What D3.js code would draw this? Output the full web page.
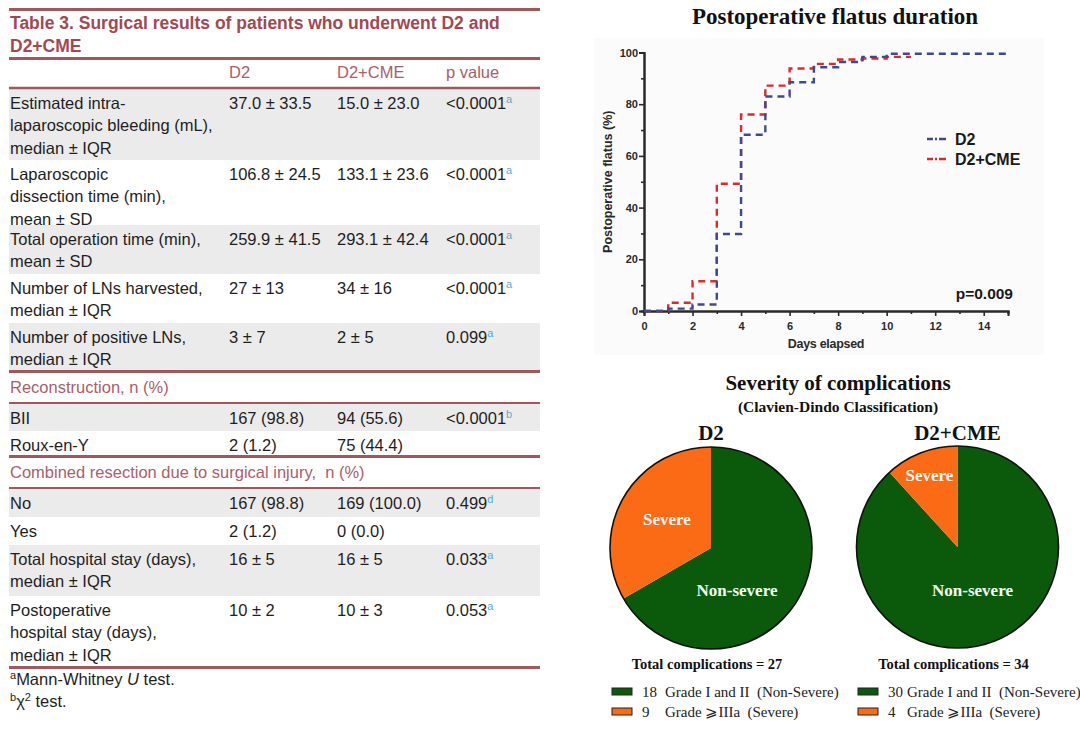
<!DOCTYPE html>
<html><head><meta charset="utf-8">
<script src="https://cdn.jsdelivr.net/npm/d3@7"></script>
<style>body{margin:0;background:#fff}svg{display:block}</style>
</head><body><svg id="c" width="1080" height="731"></svg>
<script>
// ---------------- DATA ----------------
const tableTitle = ["Table 3.  Surgical results of patients who underwent D2 and", "D2+CME"];
const tableColumns = ["D2", "D2+CME", "p value"];
const rowLabels = [
  ["Estimated intra-", "laparoscopic bleeding (mL),", "median \u00b1 IQR"],
  ["Laparoscopic", "dissection time (min),", "mean \u00b1 SD"],
  ["Total operation time (min),", "mean \u00b1 SD"],
  ["Number of LNs harvested,", "median \u00b1 IQR"],
  ["Number of positive LNs,", "median \u00b1 IQR"],
  "Reconstruction, n (%)",
  ["BII"],
  ["Roux-en-Y"],
  "Combined resection due to surgical injury,  n (%)",
  ["No"],
  ["Yes"],
  ["Total hospital stay (days),", "median \u00b1 IQR"],
  ["Postoperative", "hospital stay (days),", "median \u00b1 IQR"]
];
const d2Values = ["37.0 \u00b1 33.5", "106.8 \u00b1 24.5", "259.9 \u00b1 41.5", "27 \u00b1 13", "3 \u00b1 7", null, "167 (98.8)", "2 (1.2)", null, "167 (98.8)", "2 (1.2)", "16 \u00b1 5", "10 \u00b1 2"];
const cmeValues = ["15.0 \u00b1 23.0", "133.1 \u00b1 23.6", "293.1 \u00b1 42.4", "34 \u00b1 16", "2 \u00b1 5", null, "94 (55.6)", "75 (44.4)", null, "169 (100.0)", "0 (0.0)", "16 \u00b1 5", "10 \u00b1 3"];
const pValues = ["<0.0001", "<0.0001", "<0.0001", "<0.0001", "0.099", null, "<0.0001", "", null, "0.499", "", "0.033", "0.053"];
const pNotes = ["a", "a", "a", "a", "a", null, "b", "", null, "d", "", "a", "a"];
const shadedRows = [0, 2, 4, 6, 9, 11];

const kmTitle = "Postoperative flatus duration";
const kmDays = [0, 1, 2, 3, 4, 5, 6, 7, 8, 9, 10, 11, 15];
const kmD2 = [0, 0.9, 2.5, 29.8, 68.2, 83.0, 88.5, 94.3, 96.3, 98.3, 99.5, 99.5, 99.5];
const kmCME = [0, 3.2, 11.5, 49.2, 76.0, 87.2, 93.8, 95.6, 97.3, 97.7, 98.3, 98.3, null];
const kmSeries = ["D2", "D2+CME"];
const kmPValue = "p=0.009";
const kmXTicks = [0, 2, 4, 6, 8, 10, 12, 14];
const kmYTicks = [0, 20, 40, 60, 80, 100];

const pieGroups = ["D2", "D2+CME"];
const nonSevere = [18, 30];
const severe = [9, 4];
const pieClasses = ["Non-severe", "Severe"];
const pieLegendLabels = ["Grade I and II  (Non-Severe)", "Grade \u2A7EIIIa  (Severe)"];

// ---------------- STYLES / LAYOUT ----------------
const svg = d3.select("#c");
const SANS = "'Liberation Sans', Arial, Helvetica, sans-serif";
const SERIF = "'Liberation Serif', 'Times New Roman', serif";
const ROSE = "#a0585d";
const TITLE_ROSE = "#a24852";
const HEAD_ROSE = "#a9606a";
const SHADE = "#ebebeb";
const TXT = "#1e1e1e";
const SUP = "#5aa9d6";
const FS = 16.5;

// ---------------- TABLE ----------------
const T = svg.append("g");
const tx0 = 9, tx1 = 540;
const colX = [10, 229, 337, 446];
const rowHeights = [71, 65, 49, 49, 50, 31, 27, 27, 31, 28, 28, 51, 71];
const rules = [];
rules.push({y: 9.5, w: 3}, {y: 58.5, w: 3}, {y: 88, w: 2.5});

T.selectAll("text.title").data(tableTitle).join("text")
  .attr("x", 10).attr("y", (d, i) => 28.5 + i * 23)
  .attr("font-family", SANS).attr("font-weight", "bold").attr("font-size", 17.5)
  .attr("fill", TITLE_ROSE).text(d => d);

T.selectAll("text.head").data(tableColumns).join("text")
  .attr("x", (d, i) => colX[i + 1]).attr("y", 78)
  .attr("font-family", SANS).attr("font-size", FS).attr("fill", HEAD_ROSE).text(d => d);

let y = 89;
const rowTops = [];
rowLabels.forEach((lab, i) => {
  rowTops.push(y);
  const h = rowHeights[i];
  if (typeof lab === "string") {
    rules.push({y: y - 1.5, w: 3});
    rules.push({y: y + h - 1, w: 2});
  }
  y += h;
});
rules.push({y: y + 0.5, w: 3});
const tableBottom = y;

T.selectAll("rect.shade").data(shadedRows).join("rect")
  .attr("x", tx0).attr("width", tx1 - tx0)
  .attr("y", i => rowTops[i]).attr("height", i => rowHeights[i])
  .attr("fill", SHADE);

rowLabels.forEach((lab, i) => {
  const top = rowTops[i];
  if (typeof lab === "string") {
    T.append("text").attr("x", 10).attr("y", top + 20)
      .attr("font-family", SANS).attr("font-size", FS).attr("fill", HEAD_ROSE)
      .style("white-space", "pre").text(lab);
    return;
  }
  lab.forEach((ln, j) => {
    T.append("text").attr("x", 10).attr("y", top + 19.5 + j * 22.5)
      .attr("font-family", SANS).attr("font-size", FS).attr("fill", TXT).text(ln);
  });
  [d2Values[i], cmeValues[i]].forEach((v, k) => {
    if (v) T.append("text").attr("x", colX[k + 1]).attr("y", top + 19.5)
      .attr("font-family", SANS).attr("font-size", FS).attr("fill", TXT).text(v);
  });
  if (pValues[i]) {
    const t = T.append("text").attr("x", colX[3]).attr("y", top + 19.5)
      .attr("font-family", SANS).attr("font-size", FS).attr("fill", TXT);
    t.append("tspan").text(pValues[i]);
    t.append("tspan").attr("dy", -6).attr("font-size", 11).attr("fill", SUP).text(pNotes[i]);
  }
});

T.selectAll("line.rule").data(rules).join("line")
  .attr("x1", tx0).attr("x2", tx1).attr("y1", d => d.y).attr("y2", d => d.y)
  .attr("stroke", ROSE).attr("stroke-width", d => d.w);

// footnotes
const f1 = T.append("text").attr("x", 10).attr("y", tableBottom + 18)
  .attr("font-family", SANS).attr("font-size", FS).attr("fill", TXT);
f1.append("tspan").attr("font-size", 11).attr("dy", -6).text("a");
f1.append("tspan").attr("dy", 6).text("Mann-Whitney ");
f1.append("tspan").attr("font-style", "italic").text("U");
f1.append("tspan").text(" test.");
const f2 = T.append("text").attr("x", 10).attr("y", tableBottom + 40)
  .attr("font-family", SANS).attr("font-size", FS).attr("fill", TXT);
f2.append("tspan").attr("font-size", 11).attr("dy", -6).text("b");
f2.append("tspan").attr("dy", 6).text("\u03c7");
f2.append("tspan").attr("font-size", 11).attr("dy", -6).text("2");
f2.append("tspan").attr("dy", 6).text(" test.");

// ---------------- KM CHART ----------------
const K = svg.append("g");
K.append("rect").attr("x", 594).attr("y", 38).attr("width", 450).attr("height", 317).attr("fill", "#fbfbfb");
K.append("text").attr("x", 835).attr("y", 24).attr("text-anchor", "middle")
  .attr("font-family", SERIF).attr("font-weight", "bold").attr("font-size", 23).attr("fill", "#111").text(kmTitle);

const xS = d3.scaleLinear().domain([0, 15]).range([644, 1008]);
const yS = d3.scaleLinear().domain([0, 100]).range([311, 52.5]);
const AX = "#2a2a2a";

const xMinor = K.append("g").attr("transform", `translate(0,${yS(0)})`)
  .call(d3.axisBottom(xS).tickValues(d3.range(1, 16, 2)).tickSize(3).tickFormat(""));
const xMajor = K.append("g").attr("transform", `translate(0,${yS(0)})`)
  .call(d3.axisBottom(xS).tickValues(kmXTicks).tickSize(5).tickPadding(6).tickFormat(d3.format("d")));
const yMinor = K.append("g").attr("transform", `translate(${xS(0)},0)`)
  .call(d3.axisLeft(yS).tickValues([10, 30, 50, 70, 90]).tickSize(3).tickFormat(""));
const yMajor = K.append("g").attr("transform", `translate(${xS(0)},0)`)
  .call(d3.axisLeft(yS).tickValues(kmYTicks).tickSize(5).tickPadding(1).tickFormat(d3.format("d")));
[xMinor, xMajor, yMinor, yMajor].forEach(g => {
  g.select(".domain").attr("stroke", AX).attr("stroke-width", 2);
  g.selectAll(".tick line").attr("stroke", AX).attr("stroke-width", 1.6);
  g.selectAll("text").attr("font-family", SANS).attr("font-weight", "bold").attr("font-size", 11).attr("fill", AX);
});

K.append("text").attr("transform", `translate(612,${(yS(0) + yS(100)) / 2}) rotate(-90)`)
  .attr("text-anchor", "middle").attr("font-family", SANS).attr("font-weight", "bold")
  .attr("font-size", 12.5).attr("fill", AX).text("Postoperative flatus (%)");
K.append("text").attr("x", 826).attr("y", 348).attr("text-anchor", "middle")
  .attr("font-family", SANS).attr("font-weight", "bold").attr("font-size", 12.5)
  .attr("letter-spacing", -0.3).attr("fill", AX).text("Days elapsed");
K.append("text").attr("x", 1013).attr("y", 299).attr("text-anchor", "end")
  .attr("font-family", SANS).attr("font-weight", "bold").attr("font-size", 15.5).attr("fill", "#1a1a1a").text(kmPValue);

const kmColors = ["#3c4b8e", "#e0282e"];
const stepLine = d3.line().defined(d => d[1] != null).x(d => xS(d[0])).y(d => yS(d[1])).curve(d3.curveStepAfter);
[kmCME, kmD2].forEach((vals, idx) => {
  const c = idx === 0 ? kmColors[1] : kmColors[0];
  K.append("path").datum(kmDays.map((d, i) => [d, vals[i]]))
    .attr("d", stepLine).attr("fill", "none").attr("stroke", c)
    .attr("stroke-width", 2.4).attr("stroke-dasharray", "7,5");
});

kmSeries.forEach((s, i) => {
  const ly = 139 + i * 20;
  K.append("line").attr("x1", 927).attr("x2", 946).attr("y1", ly).attr("y2", ly)
    .attr("stroke", kmColors[i]).attr("stroke-width", 2.4).attr("stroke-dasharray", "6,2,2,2,7");
  K.append("text").attr("x", 955).attr("y", ly + 6).attr("font-family", SANS).attr("font-weight", "bold")
    .attr("font-size", 16).attr("fill", "#1a1a1a").text(s);
});

// ---------------- PIES ----------------
const P = svg.append("g");
const GREEN = "#0b5a0c", ORANGE = "#fb6a14";
P.append("text").attr("x", 838).attr("y", 390).attr("text-anchor", "middle")
  .attr("font-family", SERIF).attr("font-weight", "bold").attr("font-size", 21).attr("fill", "#111")
  .text("Severity of complications");
P.append("text").attr("x", 838).attr("y", 412).attr("text-anchor", "middle")
  .attr("font-family", SERIF).attr("font-weight", "bold").attr("font-size", 15.5).attr("fill", "#111")
  .text("(Clavien-Dindo Classification)");

const pieCenters = [[711, 548], [957.5, 547]];
const R = 101;
const pie = d3.pie().sort(null).value(d => d.v);
const arc = d3.arc().innerRadius(0).outerRadius(R);
const labelOffsets = [
  {sev: [-44, -29], non: [26, 42]},
  {sev: [-28, -72], non: [15, 43]}
];
const legendRectX = [612, 858];
const legendTextX = [665, 907];

pieGroups.forEach((g, gi) => {
  const [cx, cy] = pieCenters[gi];
  const G = P.append("g").attr("transform", `translate(${cx},${cy})`);
  const data = [{k: pieClasses[0], v: nonSevere[gi], c: GREEN}, {k: pieClasses[1], v: severe[gi], c: ORANGE}];
  G.selectAll("path").data(pie(data)).join("path").attr("d", arc).attr("fill", d => d.data.c);
  G.append("circle").attr("r", R).attr("fill", "none").attr("stroke", "#111").attr("stroke-width", 1.6);
  const lo = labelOffsets[gi];
  G.append("text").attr("x", lo.sev[0]).attr("y", lo.sev[1]).attr("dy", "0.35em").attr("text-anchor", "middle")
    .attr("font-family", SERIF).attr("font-weight", "bold").attr("font-size", 17).attr("fill", "#fff8f0").text(pieClasses[1]);
  G.append("text").attr("x", lo.non[0]).attr("y", lo.non[1]).attr("dy", "0.35em").attr("text-anchor", "middle")
    .attr("font-family", SERIF).attr("font-weight", "bold").attr("font-size", 17).attr("fill", "#f4fff4").text(pieClasses[0]);

  P.append("text").attr("x", cx).attr("y", 440).attr("text-anchor", "middle")
    .attr("font-family", SERIF).attr("font-weight", "bold").attr("font-size", 21).attr("fill", "#111").text(g);
  P.append("text").attr("x", cx - 4).attr("y", 669).attr("text-anchor", "middle")
    .attr("font-family", SERIF).attr("font-weight", "bold").attr("font-size", 14.5).attr("fill", "#111")
    .text("Total complications = " + (nonSevere[gi] + severe[gi]));

  [nonSevere[gi], severe[gi]].forEach((n, k) => {
    const ry = 688 + k * 20;
    P.append("rect").attr("x", legendRectX[gi]).attr("y", ry).attr("width", 20).attr("height", 7)
      .attr("fill", k === 0 ? GREEN : ORANGE).attr("stroke", "#222").attr("stroke-width", 1);
    P.append("text").attr("x", legendRectX[gi] + 30).attr("y", ry + 9)
      .attr("font-family", SERIF).attr("font-size", 15).attr("fill", "#222").text(n);
    P.append("text").attr("x", legendTextX[gi]).attr("y", ry + 9)
      .attr("font-family", SERIF).attr("font-size", 15).attr("fill", "#222")
      .style("white-space", "pre").text(pieLegendLabels[k]);
  });
});
</script></body></html>
